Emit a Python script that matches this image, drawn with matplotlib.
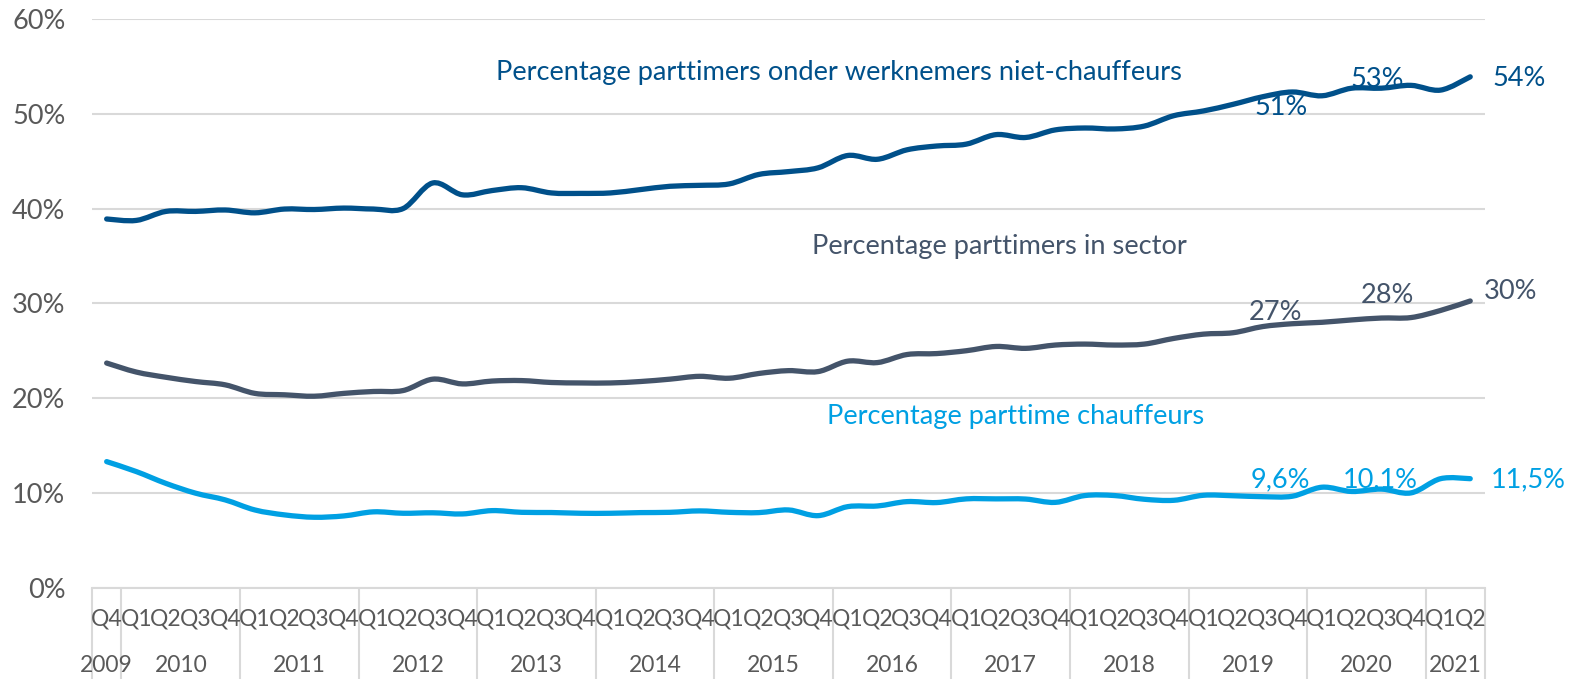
import matplotlib
matplotlib.use("Agg")
import matplotlib.pyplot as plt
from matplotlib.path import Path
from matplotlib.patches import PathPatch

plt.rcParams['font.family'] = ['Lato', 'DejaVu Sans']

# quarters 2009 Q4 .. 2021 Q2
quarters = ["Q4"] + ["Q1", "Q2", "Q3", "Q4"] * 11 + ["Q1", "Q2"]
years = ["2009", "2010", "2011", "2012", "2013", "2014", "2015",
         "2016", "2017", "2018", "2019", "2020", "2021"]
year_sizes = [1] + [4] * 11 + [2]

niet_chauffeurs = [38.9, 38.75, 39.7, 39.7, 39.85, 39.55, 39.95, 39.9, 40.05, 39.95,
                   40.0, 42.7, 41.45, 41.9, 42.2, 41.65, 41.6, 41.65, 42.0, 42.35,
                   42.45, 42.6, 43.6, 43.9, 44.3, 45.6, 45.2, 46.2, 46.6, 46.8,
                   47.8, 47.5, 48.3, 48.5, 48.4, 48.7, 49.8, 50.3, 51.0, 51.8,
                   52.3, 51.9, 52.7, 52.7, 53.0, 52.5, 53.9]
sector = [23.7, 22.75, 22.2, 21.75, 21.4, 20.5, 20.35, 20.2, 20.5, 20.7,
          20.8, 22.0, 21.5, 21.8, 21.85, 21.65, 21.6, 21.6, 21.75, 22.0,
          22.3, 22.1, 22.6, 22.9, 22.8, 23.9, 23.75, 24.6, 24.7, 25.0,
          25.45, 25.25, 25.6, 25.7, 25.6, 25.7, 26.3, 26.75, 26.9, 27.55,
          27.85, 28.0, 28.25, 28.45, 28.5, 29.25, 30.25]
chauffeurs = [13.3, 12.25, 11.0, 9.97, 9.26, 8.2, 7.68, 7.43, 7.57, 8.0,
              7.85, 7.9, 7.78, 8.13, 7.95, 7.93, 7.85, 7.85, 7.92, 7.95,
              8.1, 7.95, 7.92, 8.2, 7.6, 8.55, 8.62, 9.08, 8.98, 9.37,
              9.37, 9.35, 9.0, 9.72, 9.72, 9.33, 9.22, 9.75, 9.7, 9.6,
              9.65, 10.6, 10.15, 10.4, 10.0, 11.5, 11.5]

# data labels: (point index, text)
labels_top = [(39, "51%"), (43, "53%"), (46, "54%")]
labels_mid = [(39, "27%"), (43, "28%"), (46, "30%")]
labels_low = [(39, "9,6%"), (43, "10,1%"), (46, "11,5%")]

c_top = "#00508A"
c_mid = "#44546A"
c_low = "#00A0E3"
grey = "#595959"
grid = "#D9D9D9"


def smooth_path(ys):
    # excel-like smoothed line as cubic bezier segments
    n = len(ys)
    xs = list(range(n))
    verts = [(xs[0], ys[0])]
    codes = [Path.MOVETO]
    for i in range(n - 1):
        a = max(i - 1, 0)
        b = min(i + 2, n - 1)
        c1 = (xs[i] + (xs[i + 1] - xs[a]) / 6, ys[i] + (ys[i + 1] - ys[a]) / 6)
        c2 = (xs[i + 1] - (xs[b] - xs[i]) / 6, ys[i + 1] - (ys[b] - ys[i]) / 6)
        verts += [c1, c2, (xs[i + 1], ys[i + 1])]
        codes += [Path.CURVE4] * 3
    return Path(verts, codes)


fig = plt.figure(figsize=(15.78, 6.79), dpi=100)
ax = fig.add_axes([0.0582, 0.1345, 0.8829, 0.8375])

n = len(quarters)
ax.set_xlim(-0.5, n - 0.5)
ax.set_ylim(0, 60)

for s, c in [(niet_chauffeurs, c_top), (sector, c_mid), (chauffeurs, c_low)]:
    ax.add_patch(PathPatch(smooth_path(s), fill=False, edgecolor=c, lw=3.8,
                           capstyle="round", joinstyle="round", zorder=3))

ax.set_yticks(range(0, 61, 10))
ax.set_yticklabels([f"{v}%" for v in range(0, 61, 10)], color=grey, fontsize=19.5)
ax.tick_params(axis="y", length=0, pad=19)
ax.set_xticks([])
ax.grid(axis="y", color=grid, lw=1.5)
ax.set_axisbelow(True)
for side in ["left", "right", "top"]:
    ax.spines[side].set_visible(False)
ax.spines["bottom"].set_color(grid)
ax.spines["bottom"].set_linewidth(1.5)

# category axis: quarters and years
tr = ax.get_xaxis_transform()
for i, q in enumerate(quarters):
    ax.text(i, -0.055, q, transform=tr, ha="center", va="center",
            color=grey, fontsize=16.5, clip_on=False)
start = 0
bounds = [-0.5]
for y, size in zip(years, year_sizes):
    ax.text(start + (size - 1) / 2, -0.136, y, transform=tr, ha="center",
            va="center", color=grey, fontsize=16.5, clip_on=False)
    start += size
    bounds.append(start - 0.5)
ax.vlines(bounds, -0.165, 0, transform=tr, colors=grid, lw=1.5, clip_on=False)

# series names
ax.text(24.72, 54.4, "Percentage parttimers onder werknemers niet-chauffeurs",
        color=c_top, fontsize=19.6, ha="center", va="center")
ax.text(30.12, 36.0, "Percentage parttimers in sector",
        color=c_mid, fontsize=19.6, ha="center", va="center")
ax.text(30.66, 18.1, "Percentage parttime chauffeurs",
        color=c_low, fontsize=19.6, ha="center", va="center")

# data labels
offsets = {39: (18, -11), 43: (-4, 9), 46: (22, -2)}
for idx, txt in labels_top:
    dx, dy = offsets[idx]
    ax.annotate(txt, (idx, niet_chauffeurs[idx]), xytext=(dx, dy),
                textcoords="offset pixels", color=c_top, fontsize=19.5,
                ha="left" if idx == 46 else "center", va="center", zorder=4)
offsets = {39: (13, 14), 43: (6, 23), 46: (14, 9)}
for idx, txt in labels_mid:
    dx, dy = offsets[idx]
    ax.annotate(txt, (idx, sector[idx]), xytext=(dx, dy),
                textcoords="offset pixels", color=c_mid, fontsize=19.5,
                ha="left" if idx == 46 else "center", va="center", zorder=4)
offsets = {39: (18, 17), 43: (-1, 9), 46: (21, -1)}
for idx, txt in labels_low:
    dx, dy = offsets[idx]
    ax.annotate(txt, (idx, chauffeurs[idx]), xytext=(dx, dy),
                textcoords="offset pixels", color=c_low, fontsize=19.5,
                ha="left" if idx == 46 else "center", va="center", zorder=4)

fig.savefig("out.png", dpi=100)
